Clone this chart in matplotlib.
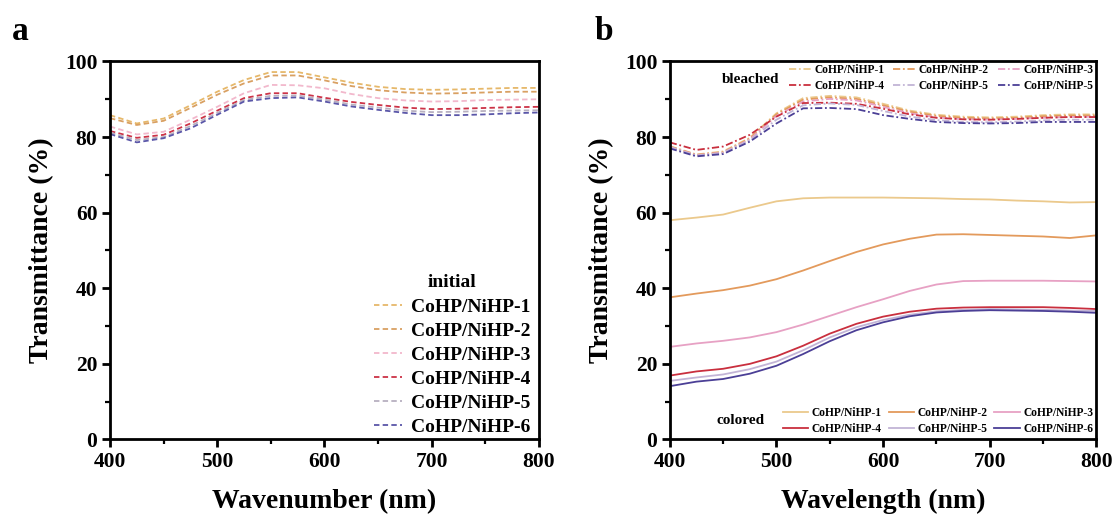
import numpy as np
import matplotlib.pyplot as plt
from matplotlib.ticker import MultipleLocator

plt.rcParams['font.family'] = ['Liberation Serif', 'DejaVu Serif']
plt.rcParams['font.weight'] = 'bold'

wl = [400, 425, 450, 475, 500, 525, 550, 575, 600, 625, 650, 675, 700, 725, 750, 775, 800]

# panel a: initial state
init_1 = [85.8, 83.6, 84.9, 88.4, 92.0, 95.1, 97.2, 97.2, 95.8, 94.4, 93.3, 92.7, 92.5, 92.6, 92.8, 93.0, 93.0]
init_2 = [85.0, 83.2, 84.3, 87.7, 91.2, 94.2, 96.3, 96.3, 95.0, 93.5, 92.4, 91.8, 91.5, 91.6, 91.8, 92.0, 92.0]
init_3 = [82.8, 80.7, 81.4, 84.6, 88.0, 91.6, 93.8, 93.7, 92.9, 91.4, 90.3, 89.7, 89.4, 89.5, 89.8, 89.9, 90.0]
init_4 = [81.6, 79.8, 80.6, 83.6, 87.0, 90.3, 91.6, 91.6, 90.4, 89.3, 88.5, 87.8, 87.4, 87.5, 87.7, 87.9, 88.0]
init_5 = [81.2, 79.2, 80.0, 82.9, 86.4, 89.8, 90.9, 91.0, 89.9, 88.6, 87.8, 87.0, 86.6, 86.7, 86.9, 87.0, 87.1]
init_6 = [80.8, 78.6, 79.7, 82.3, 85.9, 89.4, 90.3, 90.5, 89.4, 88.1, 87.2, 86.4, 85.8, 85.8, 86.0, 86.3, 86.5]

# panel b: bleached state
bl_1 = [77.6, 75.4, 76.2, 79.8, 86.3, 90.3, 90.9, 90.5, 88.8, 87.0, 85.9, 85.4, 85.2, 85.4, 85.8, 86.0, 86.0]
bl_2 = [77.5, 75.3, 76.0, 79.6, 86.0, 89.9, 90.5, 90.1, 88.4, 86.7, 85.6, 85.1, 84.9, 85.1, 85.5, 85.7, 85.7]
bl_3 = [77.4, 75.2, 75.9, 79.4, 85.6, 89.4, 90.1, 89.7, 88.0, 86.3, 85.2, 84.7, 84.6, 84.8, 85.1, 85.3, 85.4]
bl_4 = [78.6, 76.6, 77.5, 80.6, 85.4, 89.0, 89.1, 88.8, 87.5, 86.0, 85.1, 84.7, 84.6, 84.8, 85.1, 85.3, 85.3]
bl_5 = [77.3, 75.1, 75.8, 79.2, 84.6, 88.4, 88.9, 88.5, 86.9, 85.4, 84.5, 84.0, 83.9, 84.1, 84.4, 84.6, 84.6]
bl_6 = [77.0, 74.9, 75.5, 78.8, 83.6, 87.6, 87.7, 87.4, 85.8, 84.8, 84.0, 83.7, 83.6, 83.7, 84.0, 84.0, 84.0]

# panel b: colored state
col_1 = [58.0, 58.7, 59.5, 61.3, 63.0, 63.8, 64.0, 64.0, 64.0, 63.9, 63.8, 63.6, 63.5, 63.2, 63.0, 62.7, 62.8]
col_2 = [37.6, 38.6, 39.5, 40.7, 42.4, 44.7, 47.2, 49.6, 51.6, 53.1, 54.2, 54.3, 54.1, 53.9, 53.7, 53.3, 54.0]
col_3 = [24.5, 25.4, 26.1, 27.0, 28.4, 30.4, 32.7, 35.0, 37.1, 39.3, 41.0, 41.9, 42.0, 42.0, 42.0, 41.9, 41.8]
col_4 = [16.9, 18.0, 18.7, 20.0, 22.0, 24.8, 28.0, 30.6, 32.5, 33.8, 34.6, 34.9, 35.0, 35.0, 35.0, 34.8, 34.5]
col_5 = [15.5, 16.4, 17.2, 18.6, 20.6, 23.6, 27.0, 29.7, 31.6, 33.0, 33.9, 34.3, 34.5, 34.4, 34.3, 34.1, 34.0]
col_6 = [14.1, 15.3, 16.0, 17.4, 19.5, 22.6, 26.0, 28.9, 31.0, 32.6, 33.6, 34.0, 34.2, 34.1, 34.0, 33.8, 33.5]

colors = ['#EBC98C', '#E39A5C', '#E7A1C4', '#C92F3E', '#C2B4D6', '#4B3F96']
init_colors = ['#E6B86A', '#D9A062', '#F2B8CC', '#CC3347', '#B8B0C0', '#5A56A8']
labels_init = ['CoHP/NiHP-1', 'CoHP/NiHP-2', 'CoHP/NiHP-3', 'CoHP/NiHP-4', 'CoHP/NiHP-5', 'CoHP/NiHP-6']
labels_bl = ['CoHP/NiHP-1', 'CoHP/NiHP-2', 'CoHP/NiHP-3', 'CoHP/NiHP-4', 'CoHP/NiHP-5', 'CoHP/NiHP-5']
labels_col = ['CoHP/NiHP-1', 'CoHP/NiHP-2', 'CoHP/NiHP-3', 'CoHP/NiHP-4', 'CoHP/NiHP-5', 'CoHP/NiHP-6']

init_data = [init_1, init_2, init_3, init_4, init_5, init_6]
bl_data = [bl_1, bl_2, bl_3, bl_4, bl_5, bl_6]
col_data = [col_1, col_2, col_3, col_4, col_5, col_6]


def style_axis(ax, xlabel):
    ax.set_xlim(400, 800)
    ax.set_ylim(0, 100)
    ax.xaxis.set_major_locator(MultipleLocator(100))
    ax.xaxis.set_minor_locator(MultipleLocator(50))
    ax.yaxis.set_major_locator(MultipleLocator(20))
    ax.yaxis.set_minor_locator(MultipleLocator(10))
    ax.tick_params(which='major', direction='out', length=6, width=2, labelsize=15.5, pad=3)
    ax.tick_params(which='minor', direction='out', length=3.5, width=1.6)
    for s in ax.spines.values():
        s.set_linewidth(2)
    ax.set_xlabel(xlabel, fontsize=20, fontweight='bold', labelpad=12)
    ax.set_ylabel('Transmittance (%)', fontsize=20, fontweight='bold', labelpad=8)


fig = plt.figure(figsize=(11.2, 5.24), dpi=100)
ax1 = fig.add_axes([0.0982, 0.1613, 0.383, 0.7214])
ax2 = fig.add_axes([0.598, 0.1613, 0.381, 0.7214])

# ---- panel a
h_init = []
for d, c, l in zip(init_data, init_colors, labels_init):
    ln, = ax1.plot(wl, d, ls=(0, (3, 1.8)), color=c, lw=1.3, label=l)
    h_init.append(ln)
style_axis(ax1, 'Wavenumber (nm)')
ax1.legend(handles=h_init, loc='lower right', frameon=False, fontsize=14,
           handlelength=1.45, handletextpad=0.45, labelspacing=0.33,
           title='initial', title_fontproperties={'weight': 'bold', 'size': 14},
           borderaxespad=0.0, bbox_to_anchor=(0.985, 0.005), borderpad=0.1)

# ---- panel b
h_bl = []
for d, c, l in zip(bl_data, colors, labels_bl):
    ln, = ax2.plot(wl, d, ls=(0, (4, 1.5, 1, 1.5)), color=c, lw=1.3, label=l)
    h_bl.append(ln)
h_col = []
for d, c, l in zip(col_data, colors, labels_col):
    ln, = ax2.plot(wl, d, ls='-', color=c, lw=1.3, label=l)
    h_col.append(ln)
style_axis(ax2, 'Wavelength (nm)')

order = [0, 3, 1, 4, 2, 5]
leg_b = ax2.legend(handles=[h_bl[i] for i in order], ncol=3, loc='upper right',
                   bbox_to_anchor=(0.995, 0.996), frameon=False, fontsize=8.3,
                   handlelength=1.9, handletextpad=0.3, columnspacing=0.8,
                   labelspacing=0.35, borderaxespad=0.0, borderpad=0.1)
ax2.add_artist(leg_b)
ax2.text(0.122, 0.952, 'bleached', transform=ax2.transAxes, fontsize=11,
         fontweight='bold', va='center', ha='left')

ax2.legend(handles=[h_col[i] for i in order], ncol=3, loc='lower right',
           bbox_to_anchor=(0.995, 0.01), frameon=False, fontsize=8.3,
           handlelength=2.2, handletextpad=0.3, columnspacing=0.6,
           labelspacing=0.3, borderaxespad=0.0, borderpad=0.1)
ax2.text(0.11, 0.05, 'colored', transform=ax2.transAxes, fontsize=11,
         fontweight='bold', va='center', ha='left')

fig.text(0.011, 0.94, 'a', fontsize=24, fontweight='bold', va='center')
fig.text(0.531, 0.94, 'b', fontsize=24, fontweight='bold', va='center')

fig.savefig('out.png', dpi=100)
